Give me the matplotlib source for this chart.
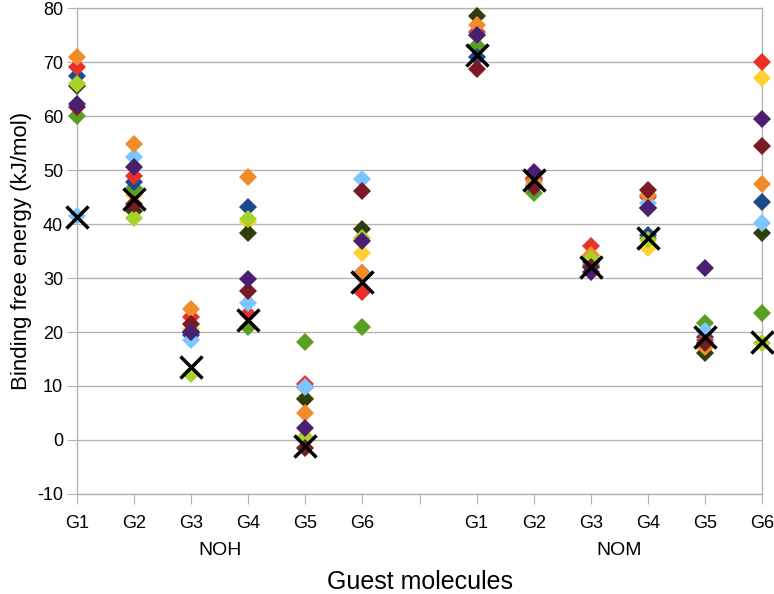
import matplotlib
matplotlib.use('Agg')
import matplotlib.pyplot as plt

plt.rcParams['font.family'] = ['Liberation Sans', 'DejaVu Sans']

# category labels: NOH G1..G6, gap, NOM G1..G6
guests = ['G1', 'G2', 'G3', 'G4', 'G5', 'G6']
groups = ['NOH', 'NOM']

# each series: NOH G1..G6 then NOM G1..G6 (kJ/mol)
orange     = [71.0, 54.9, 24.2, 48.7, 5.0, 30.9,   76.9, 48.0, 34.3, 45.4, 17.3, 47.4]
red        = [69.0, 48.9, 22.8, 23.4, 10.3, 27.5,  75.5, 48.5, 35.9, 45.0, 18.5, 70.1]
dark_blue  = [67.5, 47.8, 19.4, 43.1, 9.9, 30.9,   71.0, 48.3, 33.0, 38.0, 19.0, 44.1]
lime       = [65.9, 41.2, 12.3, 41.0, 0.5, 37.5,   75.0, 47.0, 33.5, 37.0, 18.0, 18.0]
purple     = [62.2, 50.5, 20.0, 29.9, 2.2, 36.9,   75.0, 49.7, 31.2, 42.9, 31.8, 59.4]
green      = [60.0, 46.6, 19.8, 21.0, 18.2, 21.0,  73.0, 45.8, 32.5, 37.5, 21.6, 23.5]
light_blue = [41.5, 52.5, 18.6, 25.4, 9.9, 48.3,   75.0, 47.5, 32.0, 43.9, 20.1, 40.2]
maroon     = [61.7, 43.8, 21.5, 27.6, -1.5, 46.2,  68.8, 46.9, 32.0, 46.3, 18.0, 54.4]
yellow     = [66.0, 45.4, 20.5, 40.4, 7.8, 34.7,   73.0, 47.5, 34.0, 35.5, 17.0, 67.0]
dark_green = [65.5, 42.5, 20.0, 38.4, 7.5, 39.1,   78.5, 47.0, 32.0, 43.0, 16.2, 38.3]
reference  = [41.3, 44.6, 13.5, 22.2, -1.1, 29.3,  71.3, 48.1, 32.1, 37.4, 19.1, 18.1]

# drawing order matters where diamonds overlap
series = [
    (yellow, '#FFD030'),
    (dark_green, '#2F3E0C'),
    (green, '#5A9E22'),
    (dark_blue, '#1B4B8A'),
    (red, '#E8312A'),
    (light_blue, '#7CC6FF'),
    (orange, '#F08C2A'),
    (lime, '#A8D12A'),
    (maroon, '#7A1A22'),
    (purple, '#4B1F6F'),
]

# positions 0..5 for NOH, 7..12 for NOM (slot 6 left empty)
xpos = list(range(6)) + list(range(7, 13))

fig = plt.figure(figsize=(7.74, 5.94), dpi=100)
ax = fig.add_axes([0.0995, 0.1684, 0.885, 0.818])

for vals, col in series:
    ax.plot(xpos, vals, linestyle='none', marker='D', markersize=9,
            color=col, markeredgewidth=0, clip_on=False, zorder=3)
ax.plot(xpos, reference, linestyle='none', marker='x', markersize=16,
        color='black', markeredgewidth=2.5, clip_on=False, zorder=4)

ax.set_xlim(0, 12)
ax.set_ylim(-10, 80)
ax.set_yticks(range(-10, 81, 10))
ax.set_yticklabels([str(v) for v in range(-10, 81, 10)], fontsize=13)
ax.yaxis.grid(True, color='#B3B3B3', linewidth=1)
ax.set_axisbelow(True)

ax.set_xticks(range(13))
ax.set_xticklabels(guests + [''] + guests, fontsize=13)
ax.tick_params(axis='both', direction='out', length=7, color='#B3B3B3')
ax.tick_params(axis='x', pad=8)
ax.tick_params(axis='y', pad=3)

for s in ax.spines.values():
    s.set_color('#B3B3B3')
    s.set_linewidth(1)

ax.set_ylabel('Binding free energy (kJ/mol)', fontsize=16, labelpad=4)

# group labels below the guest tick labels
ax.text(2.5, -0.117, groups[0], transform=ax.get_xaxis_transform(),
        ha='center', va='center', fontsize=14)
ax.text(9.5, -0.117, groups[1], transform=ax.get_xaxis_transform(),
        ha='center', va='center', fontsize=14)
ax.text(6.0, -0.181, 'Guest molecules', transform=ax.get_xaxis_transform(),
        ha='center', va='center', fontsize=18)

fig.savefig('out.png', dpi=100)
